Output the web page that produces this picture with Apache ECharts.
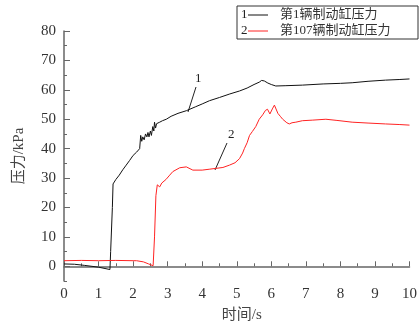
<!DOCTYPE html>
<html><head><meta charset="utf-8">
<script src="https://cdn.jsdelivr.net/npm/echarts@6/dist/echarts.min.js"></script>
<style>html,body{margin:0;padding:0;background:#fff}#c{width:420px;height:328px}</style>
</head><body><div id="c"></div>
<script>
var time1 = [0,0.3,0.6,1.0,1.33,1.35,1.40,1.42,1.45,1.5,1.6,1.7,1.8,1.9,2.0,2.1,2.19,2.22,2.25,2.28,2.32,2.36,2.4,2.43,2.46,2.5,2.53,2.57,2.6,2.62,2.65,2.68,2.72,2.77,2.85,2.96,3.1,3.3,3.54,3.8,4.0,4.21,4.5,4.8,5.08,5.3,5.5,5.65,5.72,5.8,5.9,6.0,6.13,6.4,6.9,7.5,8.0,8.34,8.8,9.31,9.7,10];
var pres1 = [0.8,0.7,0.3,-0.3,-1.1,5,20,28,27.7,29.5,31,32.8,34.4,36,37.7,38.8,40,44.5,42.5,44,43,45,44,45.5,44,46,44.5,47.5,46,49,47,48.5,48,49,49.5,50,51,52,52.9,54.2,55.2,56.3,57.4,58.6,59.6,60.6,61.8,62.6,63.2,63,62.3,61.8,61.3,61.4,61.6,62,62.2,62.4,62.9,63.3,63.5,63.7];
var time2 = [0,0.5,1.0,1.5,2.0,2.1,2.3,2.45,2.58,2.62,2.66,2.7,2.72,2.77,2.83,2.95,3.06,3.15,3.35,3.54,3.73,4.0,4.2,4.4,4.6,4.79,4.95,5.08,5.17,5.22,5.3,5.37,5.45,5.55,5.65,5.75,5.83,5.89,5.96,6.03,6.09,6.19,6.26,6.33,6.45,6.52,6.6,6.71,6.9,7.2,7.58,7.9,8.34,8.8,9.31,9.7,10];
var pres2 = [1.9,2.0,1.9,2.0,1.9,1.9,1.5,0.8,0.2,10,24,27.7,28,27,28.3,29.5,31,32.2,33.5,33.8,32.7,32.7,33,33.3,33.6,34.4,35.2,36.6,38.5,40,42,44.5,45.8,47.5,50,51.5,53,53.4,51.8,53.5,54.8,52,51,50,48.8,48.4,48.8,49,49.5,49.7,50,49.6,49,48.7,48.4,48.2,48];
var seriesNames = ['第1辆制动缸压力','第107辆制动缸压力'];
var yMajor = [0,10,20,30,40,50,60,70,80];

function pairs(t,v){return t.map(function(x,i){return [x,v[i]];});}
var FONT = '"Liberation Serif","Noto Sans CJK SC",serif';
var chart = echarts.init(document.getElementById('c'));
chart.setOption({
  animation:false,
  grid:{left:64,right:10,top:31,bottom:44,containLabel:false},
  xAxis:{type:'value',min:0,max:10,interval:1,
    name:'时间/s',nameLocation:'middle',nameGap:27,
    nameTextStyle:{fontFamily:FONT,fontSize:15,color:'#444',padding:[0,0,0,10]},
    axisLine:{lineStyle:{color:'#666',width:1.5}},
    axisTick:{inside:true,length:5,lineStyle:{color:'#666'}},
    minorTick:{show:true,splitNumber:2,length:3,lineStyle:{color:'#666'}},
    axisLabel:{fontFamily:FONT,fontSize:15,color:'#333',margin:6},
    splitLine:{show:false}},
  yAxis:[{type:'value',min:-5,max:80,interval:5,
    name:'压力/kPa',nameLocation:'middle',nameGap:37,nameRotate:90,
    nameTextStyle:{fontFamily:FONT,fontSize:15,color:'#444',padding:[0,0,0,0]},
    axisLine:{show:true,lineStyle:{color:'#666',width:1.5}},
    axisTick:{inside:true,length:3,lineStyle:{color:'#666'}},
    axisLabel:{fontFamily:FONT,fontSize:15,color:'#333',margin:8,
      formatter:function(v){return (v%10===0)?String(v):'';}},
    splitLine:{show:false}},
   {type:'value',min:-5,max:80,position:'left',
    axisLine:{show:false},
    axisTick:{show:true,inside:true,length:6,customValues:yMajor,lineStyle:{color:'#666'}},
    axisLabel:{show:false},splitLine:{show:false}}],
  series:[
    {name:seriesNames[0],type:'line',data:pairs(time1,pres1),showSymbol:false,
     lineStyle:{color:'#111',width:1},itemStyle:{color:'#111'}},
    {name:seriesNames[1],type:'line',data:pairs(time2,pres2),showSymbol:false,
     lineStyle:{color:'#f22',width:1},itemStyle:{color:'#f22'}}
  ],
  graphic:[
    {type:'rect',shape:{x:237,y:6,width:181,height:33},style:{fill:'#fff',stroke:'#333',lineWidth:1}},
    {type:'text',x:241,y:15,style:{text:'1',fontFamily:FONT,fontSize:13,fill:'#222',textVerticalAlign:'middle'}},
    {type:'line',shape:{x1:248,y1:15,x2:268,y2:15},style:{stroke:'#111',lineWidth:1}},
    {type:'text',x:280,y:15,style:{text:seriesNames[0],fontFamily:FONT,fontSize:13,fill:'#333',textVerticalAlign:'middle'}},
    {type:'text',x:241,y:31,style:{text:'2',fontFamily:FONT,fontSize:13,fill:'#222',textVerticalAlign:'middle'}},
    {type:'line',shape:{x1:248,y1:31,x2:268,y2:31},style:{stroke:'#f22',lineWidth:1}},
    {type:'text',x:280,y:31,style:{text:seriesNames[1],fontFamily:FONT,fontSize:13,fill:'#333',textVerticalAlign:'middle'}},
    {type:'text',x:195,y:79,style:{text:'1',fontFamily:FONT,fontSize:13,fill:'#222',textVerticalAlign:'middle'}},
    {type:'line',shape:{x1:196,y1:87,x2:188,y2:112},style:{stroke:'#222',lineWidth:1}},
    {type:'text',x:228,y:135,style:{text:'2',fontFamily:FONT,fontSize:13,fill:'#222',textVerticalAlign:'middle'}},
    {type:'line',shape:{x1:227,y1:143,x2:215,y2:170},style:{stroke:'#222',lineWidth:1}}
  ]
});
</script></body></html>
